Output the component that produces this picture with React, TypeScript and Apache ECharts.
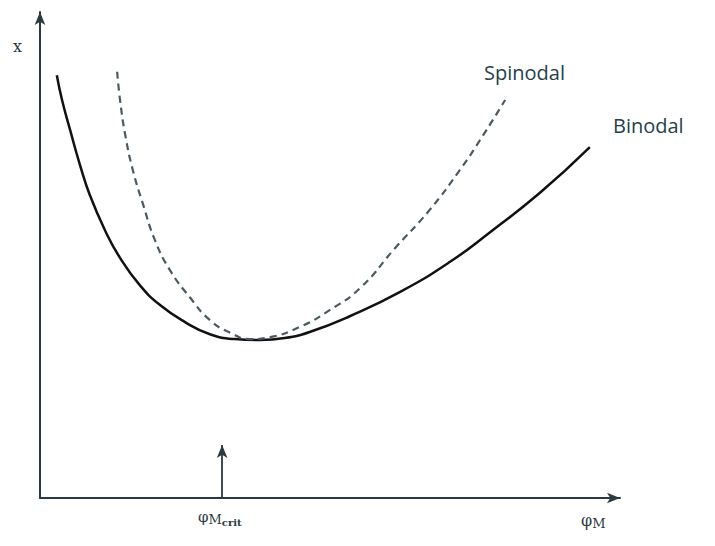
import React, { useEffect, useRef } from "react";
import * as echarts from "echarts";

const binodalX = [0.29, 0.38, 0.52, 0.69, 0.86, 1.12, 1.38, 1.72, 2.07, 2.5, 2.93, 3.36, 3.79, 4.22, 4.66, 5.34, 6.21, 7.07, 7.76, 8.62, 9.48];
const binodalY = [8.7, 8.19, 7.57, 6.85, 6.23, 5.51, 4.94, 4.38, 3.97, 3.62, 3.37, 3.27, 3.25, 3.29, 3.42, 3.74, 4.24, 4.86, 5.47, 6.28, 7.22];
const spinodalX = [1.33, 1.38, 1.47, 1.6, 1.78, 1.98, 2.24, 2.59, 2.93, 3.28, 3.62, 3.97, 4.48, 5.0, 5.52, 6.12, 6.72, 7.24, 7.59, 8.02];
const spinodalY = [8.77, 8.19, 7.47, 6.75, 6.03, 5.31, 4.69, 4.12, 3.66, 3.4, 3.27, 3.31, 3.52, 3.87, 4.32, 5.14, 5.93, 6.75, 7.37, 8.19];
const critX = 3.14;
const critArrowTop = 1.09;

export default function App() {
  const ref = useRef<HTMLDivElement>(null);
  useEffect(() => {
    document.body.style.margin = "0";
    if (!ref.current) return;
    const chart = echarts.init(ref.current, null, { renderer: "svg" });
    const axisCommon = {
      type: "value" as const,
      min: 0,
      max: 10,
      axisLabel: { show: false },
      axisTick: { show: false },
      splitLine: { show: false },
      axisLine: {
        show: true,
        symbol: ["none", "arrow"],
        symbolSize: [8, 13],
        lineStyle: { color: "#2b3a40", width: 2 },
      },
    };
    chart.setOption({
      animation: false,
      backgroundColor: "#ffffff",
      grid: { left: 40, right: 95, top: 12, bottom: 48 },
      xAxis: { ...axisCommon },
      yAxis: { ...axisCommon },
      series: [
        {
          name: "Binodal",
          type: "line",
          smooth: true,
          symbol: "none",
          data: binodalX.map((x, i) => [x, binodalY[i]]),
          lineStyle: { color: "#111111", width: 2.5 },
          markLine: {
            silent: true,
            symbol: ["none", "arrow"],
            symbolSize: [8, 13],
            label: { show: false },
            lineStyle: { color: "#2b3a40", width: 1.8, type: "solid" },
            data: [[{ coord: [critX, 0] }, { coord: [critX, critArrowTop] }]],
          },
        },
        {
          name: "Spinodal",
          type: "line",
          smooth: true,
          symbol: "none",
          data: spinodalX.map((x, i) => [x, spinodalY[i]]),
          lineStyle: { color: "#4a5a62", width: 2.2, type: [7, 5] },
        },
      ],
      graphic: [
        { type: "text", left: 484, top: 62, style: { text: "Spinodal", font: "20px 'Open Sans', sans-serif", fill: "#243f4a" } },
        { type: "text", left: 613, top: 115, style: { text: "Binodal", font: "20px 'Open Sans', sans-serif", fill: "#243f4a" } },
        { type: "text", left: 13, top: 38, style: { text: "x", font: "16px 'DejaVu Serif', serif", fill: "#2b3a40" } },
        {
          type: "text",
          left: 581,
          top: 512,
          style: {
            text: "{a|φ}{b|M}",
            rich: {
              a: { font: "16px 'DejaVu Serif', serif", fill: "#2b3a40" },
              b: { font: "13px 'DejaVu Serif', serif", fill: "#2b3a40", padding: [6, 0, 0, 0] },
            },
          },
        },
        {
          type: "text",
          left: 198,
          top: 509,
          style: {
            text: "{a|φ}{b|M}{c|crit}",
            rich: {
              a: { font: "15px 'DejaVu Serif', serif", fill: "#2b3a40" },
              b: { font: "13px 'DejaVu Serif', serif", fill: "#2b3a40", padding: [5, 0, 0, 0] },
              c: { font: "bold 10px 'DejaVu Serif', serif", fill: "#2b3a40", padding: [12, 0, 0, 0] },
            },
          },
        },
      ],
    });
    return () => chart.dispose();
  }, []);
  return <div ref={ref} style={{ width: 715, height: 546 }} />;
}
